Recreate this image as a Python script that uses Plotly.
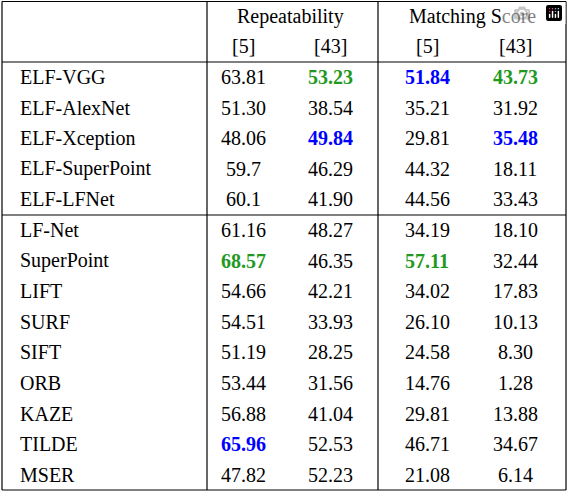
import plotly.graph_objects as go

methods = ["ELF-VGG","ELF-AlexNet","ELF-Xception","ELF-SuperPoint","ELF-LFNet",
           "LF-Net","SuperPoint","LIFT","SURF","SIFT","ORB","KAZE","TILDE","MSER"]
rep5 = ["63.81","51.30","48.06","59.7","60.1","61.16","68.57","54.66","54.51","51.19","53.44","56.88","65.96","47.82"]
rep43 = ["53.23","38.54","49.84","46.29","41.90","48.27","46.35","42.21","33.93","28.25","31.56","41.04","52.53","52.23"]
ms5 = ["51.84","35.21","29.81","44.32","44.56","34.19","57.11","34.02","26.10","24.58","14.76","29.81","46.71","21.08"]
ms43 = ["43.73","31.92","35.48","18.11","33.43","18.10","32.44","17.83","10.13","8.30","1.28","13.88","34.67","6.14"]
groups = ["Repeatability","Matching Score"]
subheads = ["[5]","[43]","[5]","[43]"]
GREEN, BLUE = "#1f9a1f", "#0000ff"
highlight = {(0,1):GREEN,(0,2):BLUE,(0,3):GREEN,(2,1):BLUE,(2,3):BLUE,(6,0):GREEN,(6,2):GREEN,(12,0):BLUE}

font = "Liberation Serif, Times New Roman, DejaVu Serif, serif"
fs = 20
fig = go.Figure()
ann = []
colx = [243, 330, 427, 515]
row_y = [77 + i*30.6 for i in range(len(methods))]
ann.append(dict(x=290, y=16, text=groups[0]))
ann.append(dict(x=472, y=16, text=groups[1]))
for x, t in zip(colx, subheads):
    ann.append(dict(x=x, y=46, text=t))
cols = [rep5, rep43, ms5, ms43]
for i, m in enumerate(methods):
    ann.append(dict(x=18, y=row_y[i], text=m, xanchor="left"))
    for j, c in enumerate(cols):
        col = highlight.get((i, j))
        txt = f"<b>{c[i]}</b>" if col else c[i]
        ann.append(dict(x=colx[j], y=row_y[i], text=txt, font=dict(color=col or "black", family=font, size=fs)))
annotations = []
for a in ann:
    d = dict(xref="x", yref="y", showarrow=False, yanchor="middle", xanchor=a.get("xanchor", "center"),
             font=a.get("font", dict(color="black", family=font, size=fs)))
    d.update({k: v for k, v in a.items() if k not in ("font", "xanchor")})
    annotations.append(d)

shapes = []
def line(x0, y0, x1, y1):
    shapes.append(dict(type="line", x0=x0, y0=y0, x1=x1, y1=y1, xref="x", yref="y", line=dict(color="black", width=1.2)))
line(2, 1.5, 566, 1.5); line(2, 62, 566, 62); line(2, 215, 566, 215); line(2, 490, 566, 490)
line(2, 1.5, 2, 490); line(566, 1.5, 566, 490); line(207, 1.5, 207, 490); line(378, 1.5, 378, 490)

fig.update_layout(width=568, height=492, margin=dict(l=0, r=0, t=0, b=0),
                  plot_bgcolor="white", paper_bgcolor="white",
                  xaxis=dict(range=[0, 568], visible=False, fixedrange=True),
                  yaxis=dict(range=[492, 0], visible=False, fixedrange=True),
                  annotations=annotations, shapes=shapes, showlegend=False)
fig.write_html("out.html", post_script="document.body.style.margin='0';document.body.style.overflow='hidden';")
